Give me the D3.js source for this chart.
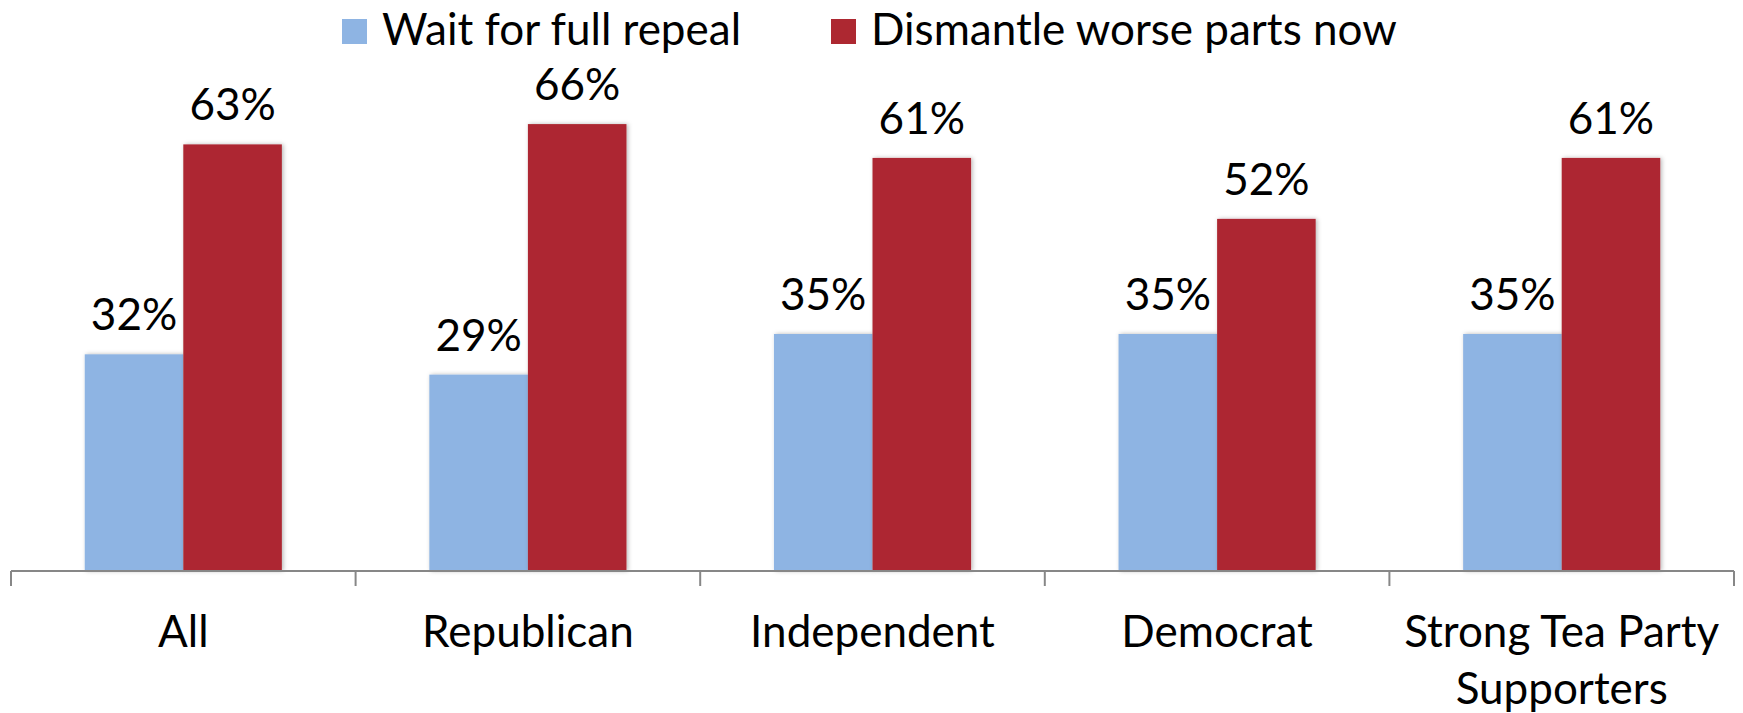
<!DOCTYPE html>
<html>
<head>
<meta charset="utf-8">
<script src="https://cdn.jsdelivr.net/npm/d3@7"></script>
<style>
  html, body { margin: 0; padding: 0; background: #ffffff; }
  svg { display: block; }
  text { font-family: Lato, "Noto Sans", sans-serif; fill: #000; }
</style>
</head>
<body>
<svg id="chart" width="1743" height="713"></svg>
<script>
// Survey: preferred approach among groups
const categories = ["All", "Republican", "Independent", "Democrat", "Strong Tea Party Supporters"];
const seriesNames = ["Wait for full repeal", "Dismantle worse parts now"];
const waitForRepeal = [32, 29, 35, 35, 35];
const dismantleNow = [63, 66, 61, 52, 61];
const seriesColors = ["#8EB4E3", "#AD2831"];

const W = 1743, H = 713;
const plot = { left: 11, right: 1734, top: 97, bottom: 571 };
const fontSize = 44;

const svg = d3.select("#chart");

const defs = svg.append("defs");
const shadow = defs.append("filter").attr("id", "barShadow")
  .attr("x", "-10%").attr("y", "-5%").attr("width", "125%").attr("height", "110%");
shadow.append("feDropShadow").attr("dx", 1.5).attr("dy", 0).attr("stdDeviation", 2)
  .attr("flood-color", "#000").attr("flood-opacity", 0.28);

const x0 = d3.scaleBand().domain(categories).range([plot.left, plot.right]).paddingInner(0).paddingOuter(0);
const groupFrac = 0.572;
const x1 = d3.scaleBand().domain(seriesNames)
  .range([x0.bandwidth() * (1 - groupFrac) / 2, x0.bandwidth() * (1 + groupFrac) / 2])
  .padding(0);
const y = d3.scaleLinear().domain([0, 70]).range([plot.bottom, plot.top]);

const rows = categories.map((c, i) => ({
  category: c,
  values: [
    { series: seriesNames[0], value: waitForRepeal[i], color: seriesColors[0] },
    { series: seriesNames[1], value: dismantleNow[i], color: seriesColors[1] }
  ]
}));

// Bars
const groups = svg.append("g").selectAll("g").data(rows).join("g")
  .attr("transform", d => `translate(${x0(d.category)},0)`);

groups.selectAll("rect").data(d => d.values).join("rect")
  .attr("x", d => x1(d.series))
  .attr("y", d => y(d.value))
  .attr("width", x1.bandwidth())
  .attr("height", d => y(0) - y(d.value))
  .attr("fill", d => d.color)
  .attr("filter", "url(#barShadow)");

// Value labels
groups.selectAll("text.value").data(d => d.values).join("text")
  .attr("class", "value")
  .attr("x", d => x1(d.series) + x1.bandwidth() / 2)
  .attr("y", d => y(d.value) - 24)
  .attr("text-anchor", "middle")
  .style("font-size", fontSize + "px")
  .text(d => d.value + "%");

// Category axis
const axis = svg.append("g").attr("transform", `translate(0,${plot.bottom})`);
axis.append("line")
  .attr("x1", plot.left).attr("x2", plot.right)
  .attr("y1", 0).attr("y2", 0)
  .attr("stroke", "#878787").attr("stroke-width", 2);

const boundaries = categories.map(c => x0(c)).concat([x0(categories[categories.length - 1]) + x0.bandwidth()]);
axis.selectAll("line.tick").data(boundaries).join("line")
  .attr("class", "tick")
  .attr("x1", d => d).attr("x2", d => d)
  .attr("y1", 0).attr("y2", 15)
  .attr("stroke", "#878787").attr("stroke-width", 2);

const labels = axis.selectAll("text.cat").data(categories).join("text")
  .attr("class", "cat")
  .attr("text-anchor", "middle")
  .attr("y", 76)
  .style("font-size", fontSize + "px")
  .attr("x", d => x0(d) + x0.bandwidth() / 2);

// Wrap long category names over several lines
labels.each(function (d) {
  const el = d3.select(this);
  const words = d.split(" ");
  const maxW = x0.bandwidth() - 10;
  const cx = x0(d) + x0.bandwidth() / 2;
  let line = [];
  let lineNo = 0;
  let tspan = el.append("tspan").attr("x", cx).attr("dy", 0);
  words.forEach(w => {
    line.push(w);
    tspan.text(line.join(" "));
    if (tspan.node().getComputedTextLength() > maxW && line.length > 1) {
      line.pop();
      tspan.text(line.join(" "));
      line = [w];
      lineNo++;
      tspan = el.append("tspan").attr("x", cx).attr("dy", 57).text(w);
    }
  });
});

// Legend
const legendItems = [
  { name: seriesNames[0], color: seriesColors[0], x: 342 },
  { name: seriesNames[1], color: seriesColors[1], x: 831 }
];
const legend = svg.append("g");
legend.selectAll("rect").data(legendItems).join("rect")
  .attr("x", d => d.x).attr("y", 19)
  .attr("width", 25).attr("height", 25)
  .attr("fill", d => d.color);
legend.selectAll("text").data(legendItems).join("text")
  .attr("x", d => d.x + 40).attr("y", 45)
  .style("font-size", fontSize + "px")
  .text(d => d.name);
</script>
</body>
</html>
